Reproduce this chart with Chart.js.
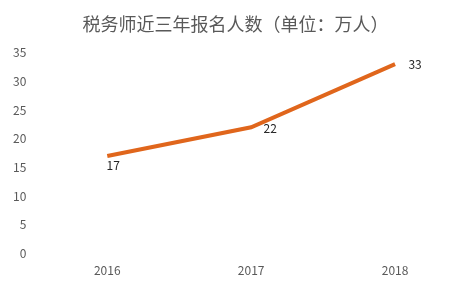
<!DOCTYPE html>
<html>
<head>
<meta charset="utf-8">
<script src="https://cdn.jsdelivr.net/npm/chart.js@4/dist/chart.umd.min.js"></script>
<style>
  html, body { margin: 0; padding: 0; background: #fff; }
  #chart { display: block; }
</style>
</head>
<body>
<canvas id="chart" width="473" height="289"></canvas>
<script>
// data
var years = ['2016', '2017', '2018'];
var applicants = [17, 22, 33];
var yTicks = [0, 5, 10, 15, 20, 25, 30, 35];

var FONT = '"Noto Sans CJK SC", "Noto Sans", sans-serif';
var GREY = '#595959';

// little plugin to write the value next to each point
var pointLabels = {
  id: 'pointLabels',
  afterDatasetsDraw: function(chart, args, opts) {
    var ctx = chart.ctx;
    var meta = chart.getDatasetMeta(0);
    ctx.save();
    ctx.font = '12px ' + FONT;
    ctx.fillStyle = '#262626';
    ctx.textAlign = 'center';
    ctx.textBaseline = 'middle';
    meta.data.forEach(function(pt, i) {
      var off = opts.offsets[i];
      ctx.fillText(String(applicants[i]), pt.x + off[0], pt.y + off[1]);
    });
    ctx.restore();
  }
};

var ctx = document.getElementById('chart');
var chart = new Chart(ctx, {
  type: 'line',
  data: {
    labels: years,
    datasets: [{
      label: '报名人数',
      data: applicants,
      borderColor: '#E0661C',
      borderWidth: 4,
      pointRadius: 0,
      pointHoverRadius: 0,
      tension: 0,
      fill: false
    }]
  },
  options: {
    responsive: false,
    animation: false,
    layout: { padding: { left: 4, right: 6, top: 0, bottom: 1 } },
    plugins: {
      legend: { display: false },
      tooltip: { enabled: false },
      title: {
        display: true,
        text: '税务师近三年报名人数（单位：万人）',
        color: GREY,
        font: { family: FONT, size: 18, weight: 'normal' },
        padding: { top: 13, bottom: 18 }
      },
      pointLabels: {
        offsets: [[6, 9], [19, 1], [20, 0]]
      }
    },
    scales: {
      x: {
        offset: true,
        grid: { display: false, drawTicks: false },
        border: { display: false },
        ticks: {
          color: GREY,
          font: { family: FONT, size: 12 },
          padding: 10
        }
      },
      y: {
        min: 0,
        max: 35,
        afterBuildTicks: function(axis) {
          axis.ticks = yTicks.map(function(v) { return { value: v }; });
        },
        grid: { display: false, drawTicks: false },
        border: { display: false },
        ticks: {
          color: GREY,
          font: { family: FONT, size: 12 },
          padding: 9
        }
      }
    }
  },
  plugins: [pointLabels]
});
</script>
</body>
</html>
